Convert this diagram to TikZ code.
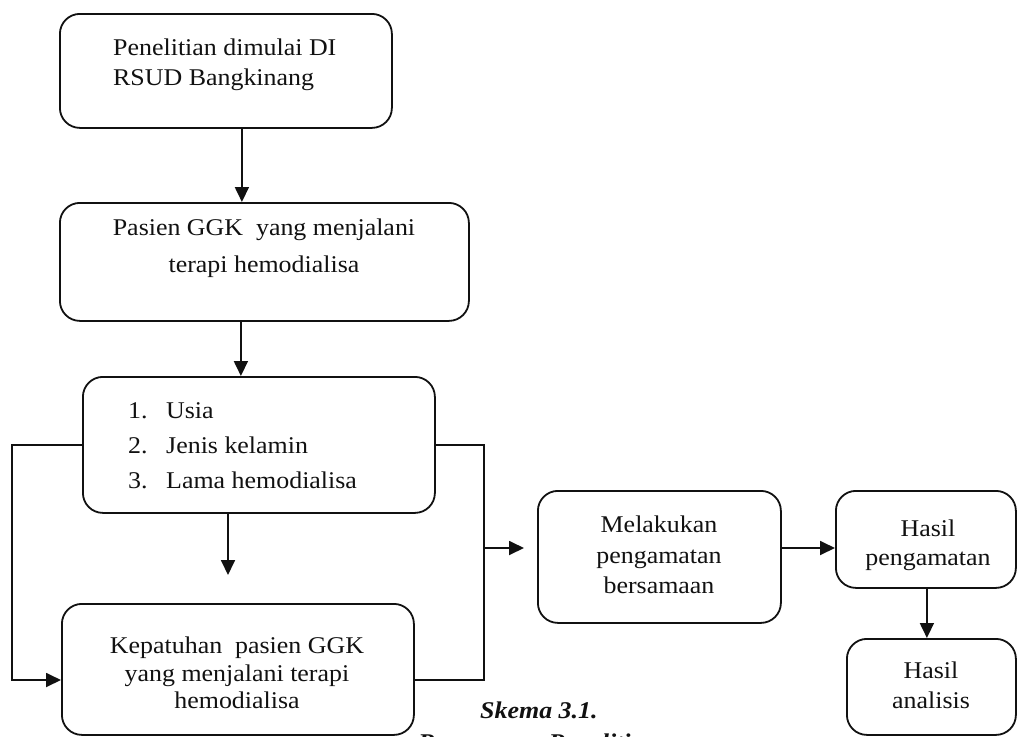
\documentclass[tikz,border=0pt]{standalone}
\usepackage{fontspec}
\setmainfont{Liberation Serif}[FakeStretch=1.08]
\usetikzlibrary{arrows.meta}
\definecolor{flowink}{HTML}{111111}

\begin{document}
\begin{tikzpicture}[
  x=1pt,
  y=-1pt,
  every node/.style={flowink},
  box/.style={draw=flowink, line width=1.8pt, rounded corners=20pt,
              anchor=north west, inner sep=0pt},
  boxtext/.style={inner sep=0pt, font=\fontsize{24}{30}\selectfont},
  link/.style={flowink, line width=1.8pt},
  flowarrow/.style={flowink, line width=1.8pt,
                    -{Triangle[length=15pt, width=14pt]}},
  caption/.style={inner sep=0pt, anchor=base west,
                  font=\fontsize{24}{30}\selectfont\bfseries\itshape}
]
  \useasboundingbox (0,0) rectangle (1017,736);

  % ---- the boxes ---------------------------------------------------------
  \node[box, minimum width=332pt, minimum height=114pt] (start) at (59,13) {};
  \node[box, minimum width=409pt, minimum height=118pt] (pasien) at (59,202) {};
  \node[box, minimum width=352pt, minimum height=136pt] (faktor) at (82,376) {};
  \node[box, minimum width=352pt, minimum height=131pt] (patuh) at (61,603) {};
  \node[box, minimum width=243pt, minimum height=132pt] (amati) at (537,490) {};
  \node[box, minimum width=180pt, minimum height=97pt] (hasil) at (835,490) {};
  \node[box, minimum width=169pt, minimum height=96pt] (analisis) at (846,638) {};

  % ---- the texts inside them ---------------------------------------------
  \node[boxtext, anchor=north west, align=left] (startText) at (113,39)
    {Penelitian dimulai DI\\RSUD Bangkinang};
  \node[boxtext, anchor=north, align=center,
        font=\fontsize{24}{37}\selectfont] (pasienText) at (264,218.5)
    {Pasien GGK\ \ yang menjalani\\terapi hemodialisa};
  \node[boxtext, anchor=north west, align=left,
        font=\fontsize{24}{35}\selectfont] (faktorText) at (128,402)
    {\makebox[38pt][l]{1.}Usia\\
     \makebox[38pt][l]{2.}Jenis kelamin\\
     \makebox[38pt][l]{3.}Lama hemodialisa};
  \node[boxtext, anchor=north, align=center,
        font=\fontsize{24}{27.5}\selectfont] (patuhText) at (237,637)
    {Kepatuhan\ \ pasien GGK\\yang menjalani terapi\\hemodialisa};
  \node[boxtext, anchor=north, align=center,
        font=\fontsize{24}{30.5}\selectfont] (amatiText) at (659,516)
    {Melakukan\\pengamatan\\bersamaan};
  \node[boxtext, anchor=north, align=center,
        font=\fontsize{24}{29}\selectfont] (hasilText) at (928,519.5)
    {Hasil\\pengamatan};
  \node[boxtext, anchor=north, align=center] (analisisText) at (931,662)
    {Hasil\\analisis};

  % ---- connectors --------------------------------------------------------
  \draw[flowarrow] ([xshift=16pt]start.south)
    -- ([xshift=16pt]start.south |- pasien.north);
  \draw[flowarrow] ([xshift=-23.5pt]pasien.south)
    -- ([xshift=-23.5pt]pasien.south |- faktor.north);

  \coordinate (downEnd) at (228,575);
  \draw[flowarrow] (faktor.south -| downEnd) -- (downEnd);

  % left branch into the compliance box
  \coordinate (leftCorner) at (12,680);
  \draw[flowarrow] (faktor.west) -| (leftCorner) -- (leftCorner -| patuh.west);

  % right branch joining both boxes, then on to the observation box
  \coordinate (rightCorner) at (484,680);
  \coordinate (rightJoin) at (484,548);
  \coordinate (rightEnd) at (524,548);
  \draw[link] (faktor.east) -| (rightCorner) -- (rightCorner -| patuh.east);
  \draw[flowarrow] (rightJoin) -- (rightEnd);

  \draw[flowarrow] (amati.east |- rightJoin) -- (hasil.west |- rightJoin);
  \draw[flowarrow] ([xshift=1pt]hasil.south)
    -- ([xshift=1pt]hasil.south |- analisis.north);

  % ---- caption, second line runs off the page ----------------------------
  \node[caption] (skema) at (480,718) {Skema 3.1.};
  \node[caption] (judul) at (418,750) {Rancangan Penelitian};
\end{tikzpicture}
\end{document}
